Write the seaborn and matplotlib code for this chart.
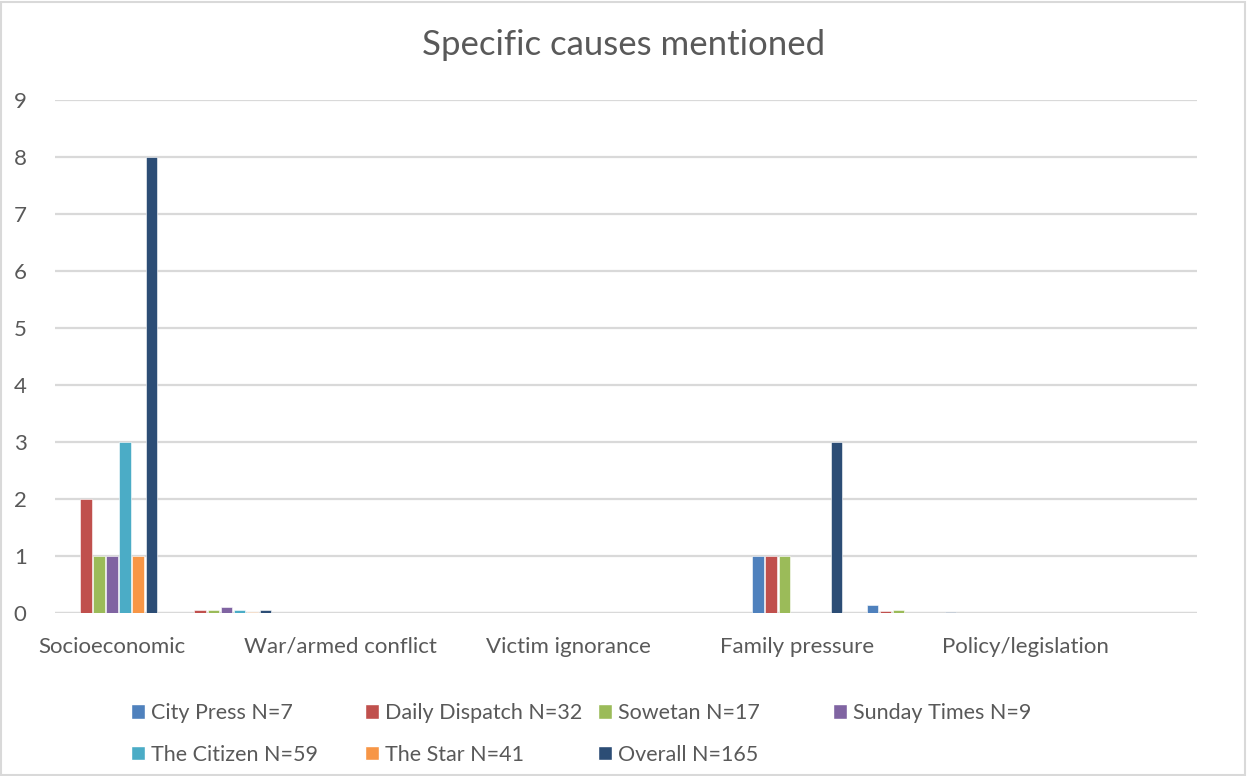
import matplotlib
matplotlib.use("Agg")
import matplotlib.pyplot as plt
from matplotlib.patches import Rectangle
import seaborn as sns
import pandas as pd

# Category axis: every other slot carries a label
categories = ["Socioeconomic", "", "War/armed conflict", "", "Victim ignorance",
              "", "Family pressure", "", "Policy/legislation", ""]

series_names = ["City Press N=7", "Daily Dispatch N=32", "Sowetan N=17",
                "Sunday Times N=9", "The Citizen N=59", "The Star N=41",
                "Overall N=165"]

city_press     = [0, 0,    0, 0, 0, 0, 1, 0.14, 0, 0]
daily_dispatch = [2, 0.06, 0, 0, 0, 0, 1, 0.04, 0, 0]
sowetan        = [1, 0.06, 0, 0, 0, 0, 1, 0.06, 0, 0]
sunday_times   = [1, 0.11, 0, 0, 0, 0, 0, 0,    0, 0]
the_citizen    = [3, 0.05, 0, 0, 0, 0, 0, 0,    0, 0]
the_star       = [1, 0.02, 0, 0, 0, 0, 0, 0,    0, 0]
overall        = [8, 0.05, 0, 0, 0, 0, 3, 0.02, 0, 0]

series_values = [city_press, daily_dispatch, sowetan, sunday_times,
                 the_citizen, the_star, overall]

colors = ["#4F81BD", "#C0504D", "#9BBB59", "#8064A2", "#4BACC6",
          "#F79646", "#2C4D75"]

rows = []
for name, vals in zip(series_names, series_values):
    for pos, v in enumerate(vals):
        rows.append({"pos": pos, "source": name, "value": v})
df = pd.DataFrame(rows)

sns.set_theme(style="white")
plt.rcParams["font.family"] = ["Lato", "DejaVu Sans"]
text_color = "#595959"

W, H = 1247, 776
fig = plt.figure(figsize=(W / 100, H / 100), dpi=100)
ax = fig.add_axes([55 / W, 1 - 613 / H, 1142 / W, 513 / H])

sns.barplot(data=df, x="pos", y="value", hue="source", hue_order=series_names,
            palette=colors, order=list(range(len(categories))),
            width=0.8, gap=0.12, saturation=1, errorbar=None,
            edgecolor="white", linewidth=0.4, ax=ax, zorder=3)

ax.set_ylim(0, 9)
ax.set_xlim(-0.5, len(categories) - 0.5)
ax.set_yticks(range(0, 10))
ax.set_xticks(range(len(categories)))
ax.set_xticklabels(categories)
ax.yaxis.grid(True, color="#D9D9D9", linewidth=1.6, zorder=0)
ax.xaxis.grid(False)
for s in ax.spines.values():
    s.set_visible(False)
ax.axhline(0, color="#D9D9D9", linewidth=1.6, zorder=1)
ax.tick_params(axis="y", length=0, pad=25, labelsize=16, labelcolor=text_color)
ax.tick_params(axis="x", length=0, pad=17, labelsize=16, labelcolor=text_color)
for lbl in ax.get_yticklabels():
    lbl.set_horizontalalignment("center")
ax.set_xlabel("")
ax.set_ylabel("")

# Legend laid out in four equal-width columns, filled row by row
ax.legend_.remove()
handles = [Rectangle((0, 0), 1, 1, facecolor=c) for c in colors]
col_x = [131, 365, 598, 833]
ncols = len(col_x)
for c, x0 in enumerate(col_x):
    idx = list(range(c, len(series_names), ncols))
    leg = fig.legend([handles[i] for i in idx], [series_names[i] for i in idx],
                     loc="upper left", bbox_to_anchor=(x0 / W, 1 - 703 / H),
                     ncol=1, frameon=False, fontsize=15.5, labelcolor=text_color,
                     handlelength=0.65, handleheight=0.65, handletextpad=0.3,
                     labelspacing=1.0, borderpad=0, borderaxespad=0)

fig.text(0.5, 1 - 45 / H, "Specific causes mentioned", ha="center", va="center",
         fontsize=25, color=text_color)

fig.patches.append(Rectangle((0.001, 0.001), 0.997, 0.997, transform=fig.transFigure,
                             fill=False, edgecolor="#D9D9D9", linewidth=1.5))

fig.savefig("out.png", dpi=100, facecolor="white")
